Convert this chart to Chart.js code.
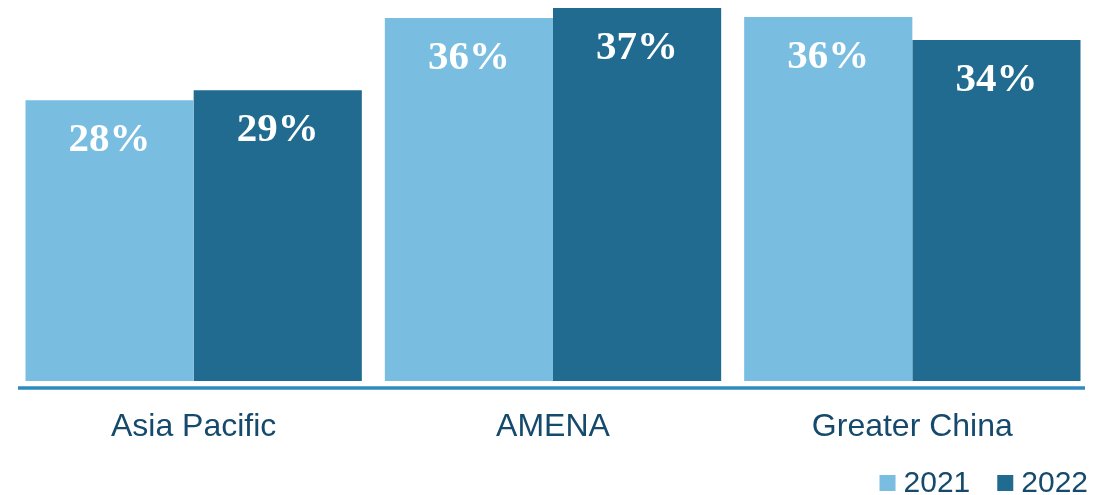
<!DOCTYPE html>
<html>
<head>
<meta charset="utf-8">
<script src="https://cdn.jsdelivr.net/npm/chart.js@4.4.1/dist/chart.umd.min.js"></script>
<style>
  html, body { margin: 0; padding: 0; background: #fff; }
  #wrap { width: 1114px; height: 495px; position: relative; }
</style>
</head>
<body>
<div id="wrap"><canvas id="chart"></canvas></div>
<script>
const regions = ['Asia Pacific', 'AMENA', 'Greater China'];
const values2021 = [28, 36.2, 36.3];
const values2022 = [29, 37.2, 34];

const textColor = '#154a6c';
const sansFont = '"Liberation Sans", Arial, sans-serif';

// value labels inside bar tops
const barLabels = {
    id: 'barLabels',
    afterDatasetsDraw(chart) {
        const ctx = chart.ctx;
        ctx.save();
        ctx.fillStyle = '#ffffff';
        ctx.font = 'bold 41px "Liberation Serif", serif';
        ctx.textAlign = 'center';
        ctx.textBaseline = 'middle';
        chart.data.datasets.forEach((ds, i) => {
            chart.getDatasetMeta(i).data.forEach((bar, j) => {
                ctx.fillText(Math.round(ds.data[j]) + '%', bar.x, bar.y + 40);
            });
        });
        ctx.restore();
    }
};

// thick baseline just under the bars
const baseLine = {
    id: 'baseLine',
    afterDraw(chart) {
        const { ctx, chartArea } = chart;
        ctx.save();
        ctx.strokeStyle = '#2e8bc0';
        ctx.lineWidth = 3.5;
        ctx.beginPath();
        ctx.moveTo(chartArea.left + 4, chartArea.bottom + 7);
        ctx.lineTo(chartArea.right - 7, chartArea.bottom + 7);
        ctx.stroke();
        ctx.restore();
    }
};

// legend in the bottom right corner, square + year
const cornerLegend = {
    id: 'cornerLegend',
    afterDraw(chart) {
        const ctx = chart.ctx;
        const box = 16, gapText = 8, gapItem = 27;
        const y = chart.height - 12;
        ctx.save();
        ctx.font = '30px ' + sansFont;
        ctx.textBaseline = 'middle';
        const items = chart.data.datasets.map(ds => ({
            text: ds.label, color: ds.backgroundColor, w: ctx.measureText(ds.label).width
        }));
        let total = 0;
        items.forEach((it, i) => { total += box + gapText + it.w + (i ? gapItem : 0); });
        let x = chart.width - 26 - total;
        items.forEach(it => {
            ctx.fillStyle = it.color;
            ctx.fillRect(x, y - box / 2, box, box);
            x += box + gapText;
            ctx.fillStyle = textColor;
            ctx.fillText(it.text, x, y + 1);
            x += it.w + gapItem;
        });
        ctx.restore();
    }
};

new Chart(document.getElementById('chart'), {
    type: 'bar',
    data: {
        labels: regions,
        datasets: [
            { label: '2021', data: values2021, backgroundColor: '#79bde1' },
            { label: '2022', data: values2022, backgroundColor: '#216b91' }
        ]
    },
    options: {
        responsive: true,
        maintainAspectRatio: false,
        animation: false,
        categoryPercentage: 0.936,
        barPercentage: 1,
        layout: { padding: { left: 14, right: 22, top: 0, bottom: 49 } },
        scales: {
            x: {
                grid: { display: false, drawTicks: false },
                border: { display: false },
                ticks: {
                    color: textColor,
                    padding: 27,
                    font: { family: sansFont, size: 32 }
                },
                afterFit(scale) { scale.height = 65; }
            },
            y: {
                display: false,
                min: 0,
                max: 38
            }
        },
        plugins: {
            tooltip: { enabled: false },
            legend: { display: false }
        }
    },
    plugins: [barLabels, baseLine, cornerLegend]
});
</script>
</body>
</html>
